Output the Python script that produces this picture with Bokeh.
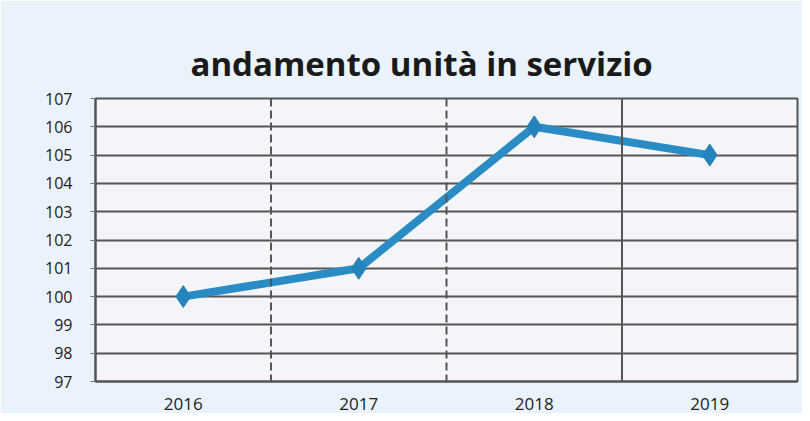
from bokeh.plotting import figure
from bokeh.models import Range1d, FixedTicker, Span
from bokeh.embed import file_html
from bokeh.resources import INLINE

years = ["2016", "2017", "2018", "2019"]
units = [100, 101, 106, 105]
y_ticks = list(range(97, 108))

xs = [i + 0.5 for i in range(len(years))]

p = figure(width=802, height=413, output_backend="svg", toolbar_location=None,
           x_range=Range1d(0, 4), y_range=Range1d(97, 107),
           min_border_left=95, min_border_right=5, min_border_top=98, min_border_bottom=32)

p.title.text = "andamento unità in servizio"
p.title.align = "left"
p.title.text_font = "Open Sans"
p.title.text_font_style = "bold"
p.title.text_font_size = "33px"
p.title.text_color = "#1a1a1a"
p.title.offset = 95
p.title.standoff = 25

p.background_fill_color = "#f4f5f9"
p.border_fill_color = "#eaf2fb"
p.outline_line_color = "#555555"
p.outline_line_width = 2

p.yaxis.ticker = FixedTicker(ticks=y_ticks)
p.xaxis.ticker = FixedTicker(ticks=xs)
p.xaxis.major_label_overrides = {x: y for x, y in zip(xs, years)}
for ax in (p.xaxis, p.yaxis):
    ax.axis_line_color = "#555555"
    ax.axis_line_width = 2
    ax.major_label_text_font = "Open Sans"
    ax.major_label_text_color = "#222222"
    ax.minor_tick_line_color = None
p.yaxis.major_label_text_font_size = "16px"
p.xaxis.major_label_text_font_size = "17px"
p.yaxis.major_tick_line_color = "#777777"
p.yaxis.major_tick_out = 5
p.yaxis.major_tick_in = 0
p.yaxis.major_label_standoff = 18
p.xaxis.major_tick_line_color = None
p.xaxis.major_label_standoff = 10

p.ygrid.ticker = FixedTicker(ticks=y_ticks)
p.ygrid.grid_line_color = "#555555"
p.ygrid.grid_line_width = 2
p.xgrid.grid_line_color = None

for b, dash in zip([1, 2, 3], ["8 4", "8 4", "solid"]):
    p.add_layout(Span(location=b, dimension="height", line_color="#555555",
                      line_width=2, line_dash=dash))

p.line(xs, units, line_color="#2a8cc4", line_width=8)
p.scatter(xs, units, marker="diamond", size=22, fill_color="#2483ba", line_color="#2483ba")

open("out.html", "w").write(file_html(p, INLINE))
